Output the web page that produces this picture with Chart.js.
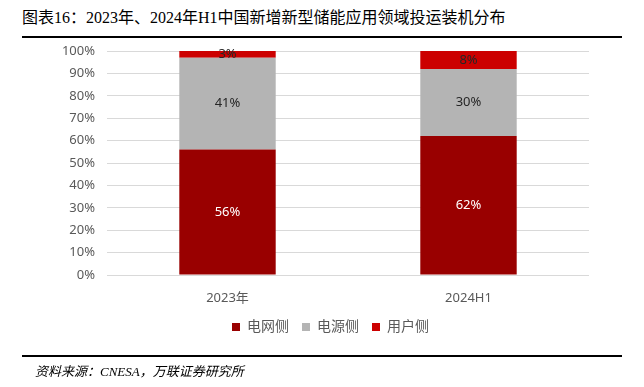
<!DOCTYPE html>
<html>
<head>
<meta charset="utf-8">
<script src="https://cdn.jsdelivr.net/npm/chart.js@4"></script>
<style>
  body { margin: 0; background: #fff; }
  #wrap { position: relative; width: 644px; height: 387px; overflow: hidden; }
  #title { position: absolute; left: 22px; top: 4px; font: 16px "Liberation Serif", "Noto Sans CJK SC", serif; color: #000; white-space: nowrap; }
  .rule { position: absolute; left: 22px; width: 600px; height: 2px; background: #000; }
  #source { position: absolute; left: 35px; top: 361px; font: italic 13px "Liberation Serif", "Noto Sans CJK SC", serif; color: #000; white-space: nowrap; }
  canvas { position: absolute; left: 0; top: 0; }
</style>
</head>
<body>
<div id="wrap">
  <div id="title">图表16：2023年、2024年H1中国新增新型储能应用领域投运装机分布</div>
  <div class="rule" style="top:36px"></div>
  <canvas id="myChart" width="644" height="387"></canvas>
  <div class="rule" style="top:355px"></div>
  <div id="source">资料来源：CNESA，万联证券研究所</div>
</div>
<script>
// 数据
const categories = ['2023年', '2024H1'];
const gridSide = [56, 62];   // 电网侧
const sourceSide = [41, 30]; // 电源侧
const userSide = [3, 8];     // 用户侧
const seriesNames = ['电网侧', '电源侧', '用户侧'];
const seriesColors = ['#990000', '#b4b4b4', '#cc0000'];
const labelColors = ['#ffffff', '#262626', '#262626'];

const fontFamily = '"Noto Sans", "Noto Sans CJK SC", sans-serif';

// 在每段柱子中间写百分比
const barLabels = {
    id: 'barLabels',
    afterDatasetsDraw(chart) {
        const ctx = chart.ctx;
        ctx.save();
        ctx.font = '13px ' + fontFamily;
        ctx.textAlign = 'center';
        ctx.textBaseline = 'middle';
        chart.data.datasets.forEach((ds, i) => {
            const meta = chart.getDatasetMeta(i);
            meta.data.forEach((bar, j) => {
                ctx.fillStyle = labelColors[i];
                ctx.fillText(ds.data[j] + '%', bar.x, (bar.y + bar.base) / 2);
            });
        });
        ctx.restore();
    }
};

// 图例在原图中略偏右，布局完成后平移
const legendShift = {
    id: 'legendShift',
    afterLayout(chart) {
        chart.legend.left += 36;
        chart.legend.right += 36;
    }
};

const datasets = [gridSide, sourceSide, userSide].map((values, i) => ({
    label: seriesNames[i],
    data: values,
    backgroundColor: seriesColors[i],
    categoryPercentage: 1,
    barPercentage: 0.4
}));

new Chart(document.getElementById('myChart'), {
    type: 'bar',
    data: { labels: categories, datasets: datasets },
    plugins: [barLabels, legendShift],
    options: {
        responsive: false,
        animation: false,
        layout: { padding: { left: 0, right: 55, top: 51, bottom: 43 } },
        plugins: {
            tooltip: { enabled: false },
            legend: {
                position: 'bottom',
                labels: {
                    boxWidth: 8,
                    boxHeight: 8,
                    padding: 13,
                    color: '#595959',
                    font: { size: 14, family: fontFamily }
                }
            }
        },
        scales: {
            x: {
                stacked: true,
                grid: { display: false },
                border: { display: false },
                ticks: { color: '#595959', padding: 7, font: { size: 13, family: fontFamily } },
                afterFit(scale) { scale.height = 32; }
            },
            y: {
                stacked: true,
                min: 0,
                max: 100,
                ticks: {
                    stepSize: 10,
                    padding: 12,
                    color: '#595959',
                    font: { size: 13, family: fontFamily },
                    callback: v => v + '%'
                },
                grid: { color: '#d9d9d9', drawTicks: false },
                border: { display: false },
                afterFit(scale) { scale.width = 107; }
            }
        }
    }
});
</script>
</body>
</html>
